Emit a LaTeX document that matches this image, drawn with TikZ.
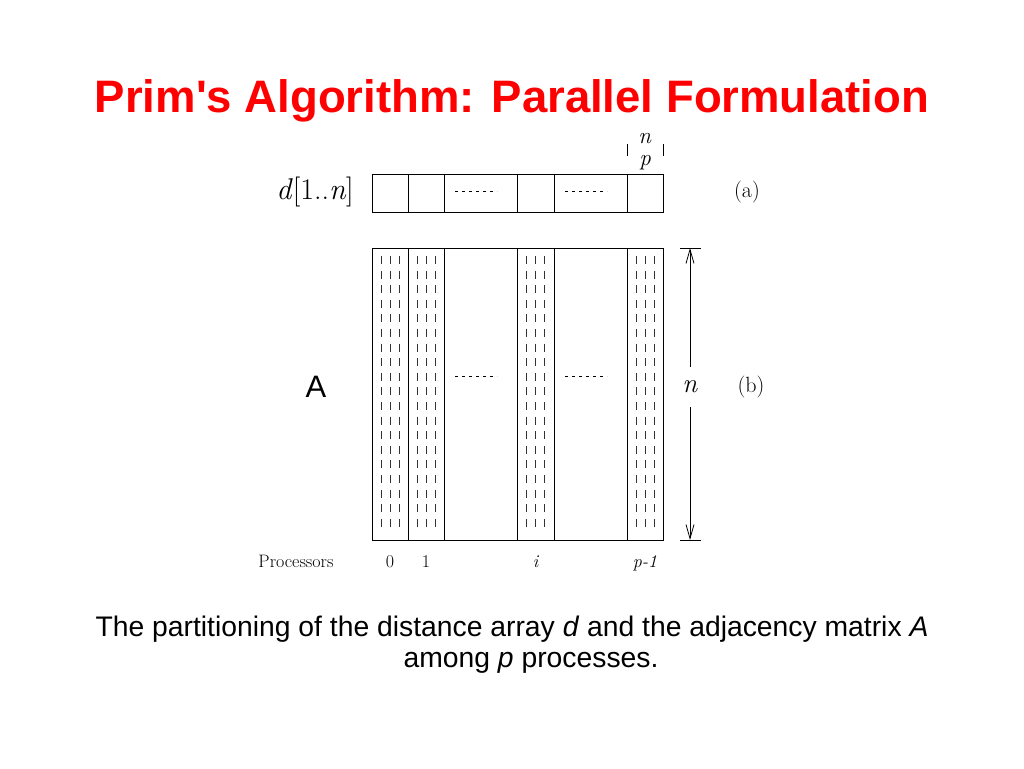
\documentclass[tikz,border=0pt]{standalone}
\usepackage{fontspec}
\newfontfamily\arial{Liberation Sans}
\usetikzlibrary{arrows.meta}
\begin{document}
\begin{tikzpicture}[x=1pt,y=-1pt,
    cell/.style={draw,line width=0.8pt},
    colmark/.style={line width=1pt,black!80},
    gap/.style={dash pattern=on 3pt off 4pt,line width=0.8pt},
    tick/.style={line width=0.8pt},
    serif/.style={font=\fontsize{#1}{#1}\selectfont}]
    \useasboundingbox (0,0) rectangle (1024,768);

    % Title
    \node[anchor=base,text=red,font=\arial\bfseries\fontsize{45.5}{50}\selectfont] (title) at (512,112) {Prim's Algorithm: Parallel Formulation};

    % Draw the array d
    \draw[cell] (372,174) rectangle (663,212);
    \foreach \x in {408,444,517,554,627}
        \draw[cell] (\x,174) -- (\x,212);
    \draw[gap] (455,191) -- (497,191);
    \draw[gap] (565,191) -- (607,191);

    % Block size n/p
    \node[serif=23,anchor=base,inner sep=0pt] (npn) at (645,143) {\textit{n}};
    \node[serif=23,anchor=base,inner sep=0pt] (npp) at (645,165) {\textit{p}};
    \draw[tick] (627,144) -- (627,156);
    \draw[tick] (663,144) -- (663,156);

    % Draw the matrix A
    \draw[cell] (372,248) rectangle (663,540);
    \foreach \x in {408,444,517,554,627}
        \draw[cell] (\x,248) -- (\x,540);
    \draw[gap] (455,376) -- (497,376);
    \draw[gap] (565,376) -- (607,376);
    \foreach \c in {390,426,535.5,645}
        \foreach \k in {0,...,18}
            \foreach \d in {-9,0,9}
                \draw[colmark] ({\c+\d},{256+14.6*\k}) -- ++(0,8);

    % Draw the size n
    \coordinate (ntop) at (690,248);
    \coordinate (nbot) at (690,540);
    \node[serif=27,minimum height=40pt] (nlab) at (690,387) {\textit{n}};
    \draw[tick] (680,248) -- (701,248);
    \draw[tick] (680,540) -- (701,540);
    \draw[tick,-{Straight Barb[length=14pt,width=8pt]}] (nlab) -- (ntop);
    \draw[tick,-{Straight Barb[length=14pt,width=8pt]}] (nlab) -- (nbot);

    % Labels
    \node[serif=30] (dlab) at (315,192) {\textit{d}[1..\textit{n}]};
    \node[font=\arial\fontsize{31}{31}\selectfont] (alab) at (316,387) {A};
    \node[serif=22] (taga) at (747,192) {(a)};
    \node[serif=22] (tagb) at (751,387) {(b)};

    % Processors
    \node[serif=18,anchor=base] (proclab) at (296,567) {Processors};
    \node[serif=18,anchor=base] (p0) at (390,567) {0};
    \node[serif=18,anchor=base] (p1) at (426,567) {1};
    \node[serif=18,anchor=base] (pi) at (536,567) {\textit{i}};
    \node[serif=18,anchor=base] (plast) at (645,567) {\textit{p-1}};

    % Caption
    \node[anchor=base,font=\arial\fontsize{28.3}{31}\selectfont] (cap1) at (512,636) {The partitioning of the distance array \textit{d} and the adjacency matrix \textit{A}};
    \node[anchor=base,font=\arial\fontsize{28.3}{31}\selectfont] (cap2) at (531,667) {among \textit{p} processes.};
\end{tikzpicture}
\end{document}
